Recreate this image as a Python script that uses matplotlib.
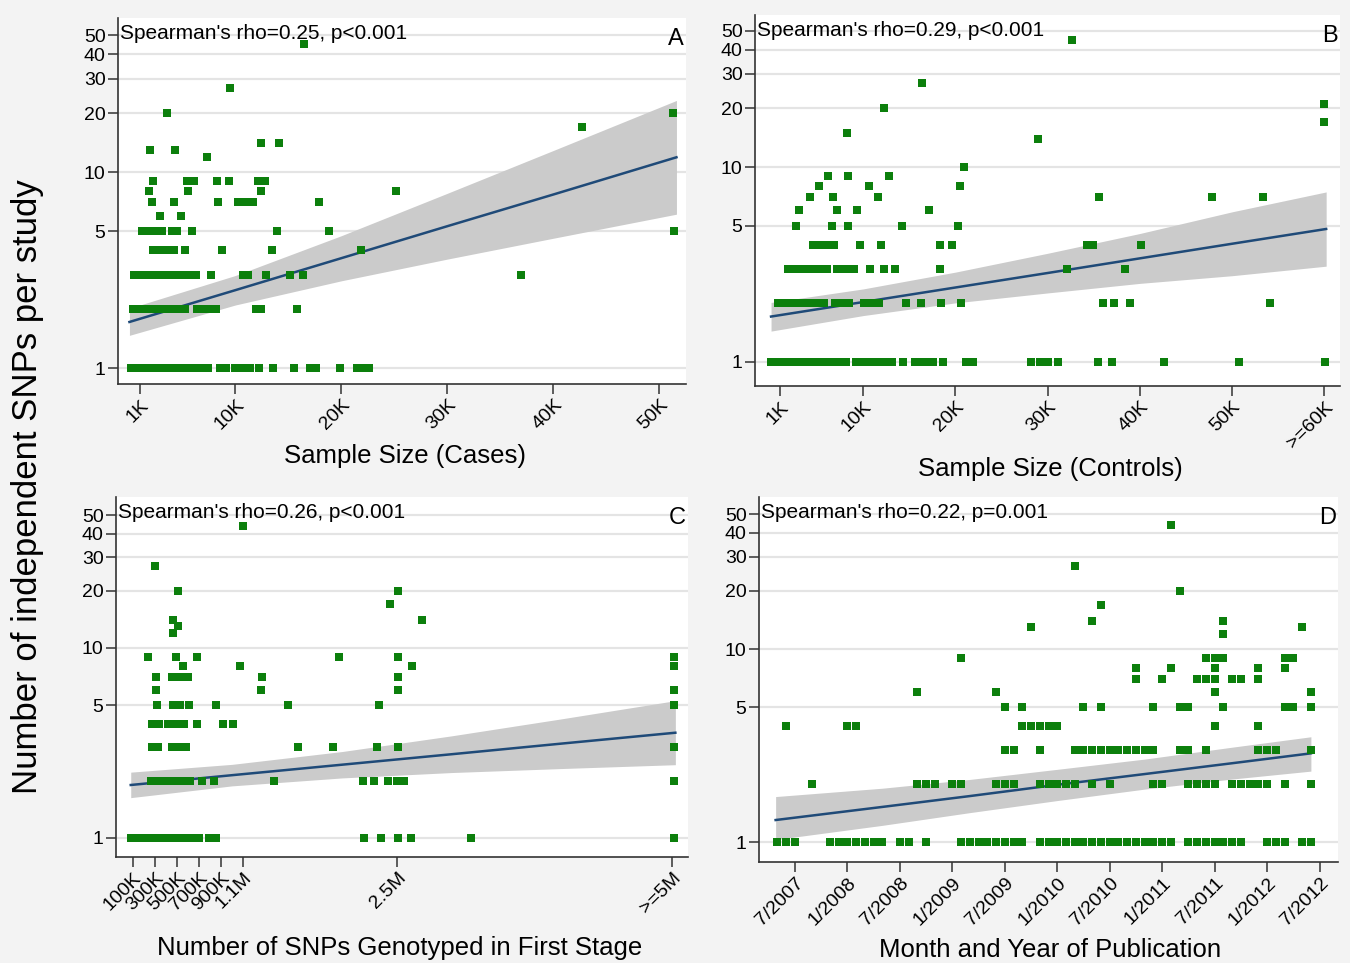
import matplotlib
matplotlib.use('Agg')
import matplotlib.pyplot as plt

# number of independent SNPs (y) -> sample size of cases, in thousands
cases_k = {
    1: [0.1, 0.3, 0.6, 0.9, 1.2, 1.5, 1.8, 2.0, 2.4, 2.7, 3.1, 3.5, 3.9, 4.3, 4.8, 5.2, 5.7, 6.2, 6.8, 7.4,
        8.5, 9.1, 10.0, 10.5, 11.0, 11.4, 12.2, 13.5, 15.5, 17.0, 17.6, 19.9, 21.5, 22.1, 22.6],
    2: [0.3, 0.7, 1.1, 1.5, 2.0, 2.4, 2.9, 3.4, 3.9, 4.4, 4.8, 5.2, 6.4, 7.0, 7.6, 8.2, 11.9, 12.4, 15.8],
    3: [0.4, 0.9, 1.2, 1.8, 2.3, 2.8, 3.3, 3.8, 4.5, 5.1, 5.9, 6.3, 7.7, 10.7, 11.2, 12.9, 15.1, 16.4, 36.9],
    4: [2.2, 2.7, 3.2, 3.7, 4.2, 5.2, 8.7, 13.4, 21.8],
    5: [1.2, 1.6, 2.0, 2.3, 3.1, 4.0, 4.5, 5.9, 13.9, 18.8, 51.4],
    6: [2.9, 4.9],
    7: [2.1, 4.2, 8.4, 10.2, 10.9, 11.7, 17.9],
    8: [1.8, 5.5, 12.4, 25.1],
    9: [2.2, 5.4, 6.1, 8.3, 9.4, 12.1, 12.8],
    12: [7.3],
    13: [1.9, 4.3],
    14: [12.4, 14.1],
    17: [42.7],
    20: [3.5, 51.3],
    27: [9.5],
    45: [16.5],
}

# sample size of controls, in thousands (60 = ">=60K")
controls_k = {
    1: [0.0, 0.3, 0.6, 0.9, 1.2, 1.6, 2.0, 2.4, 2.8, 3.2, 3.6, 4.0, 4.5, 5.0, 5.5, 6.0, 6.5, 7.0, 7.5, 8.1,
        9.2, 9.8, 10.4, 10.9, 11.7, 12.3, 13.1, 14.3, 15.6, 16.2, 16.9, 17.6, 18.6, 21.1, 21.9,
        28.2, 29.2, 30.0, 31.1, 35.5, 37.0, 42.6, 50.8, 60.1],
    2: [0.7, 1.2, 1.7, 2.2, 2.7, 3.2, 3.7, 4.2, 4.7, 5.2, 5.7, 6.9, 7.6, 8.5, 10.1, 10.8, 11.7, 14.6, 16.3,
        18.4, 20.6, 36.0, 37.2, 38.9, 54.1],
    3: [1.8, 2.5, 3.2, 3.9, 4.6, 5.2, 6.1, 7.1, 7.8, 8.5, 9.0, 10.7, 12.2, 13.4, 18.3, 32.1, 38.4],
    4: [4.6, 5.3, 6.0, 6.8, 9.7, 11.9, 18.3, 19.6, 34.3, 34.9, 40.1],
    5: [2.7, 6.6, 8.3, 14.2, 20.3],
    6: [3.0, 7.2, 9.3, 17.1],
    7: [4.2, 6.7, 11.6, 35.6, 47.8, 53.4],
    8: [5.2, 10.6, 20.5],
    9: [6.2, 8.3, 12.8],
    10: [20.9],
    14: [28.9],
    15: [8.2],
    17: [60.0],
    20: [12.2],
    21: [60.0],
    27: [16.4],
    45: [32.6],
}

# SNPs genotyped in first stage, in millions (5.02 = ">=5M")
genotyped_m = {
    1: [0.077, 0.132, 0.205, 0.25, 0.30, 0.35, 0.40, 0.45, 0.50, 0.55, 0.60, 0.65, 0.70, 0.786, 0.85,
        2.20, 2.35, 2.51, 2.63, 3.17, 5.02],
    2: [0.263, 0.32, 0.38, 0.44, 0.50, 0.56, 0.62, 0.73, 0.84, 1.38, 2.19, 2.29, 2.42, 2.50, 2.56, 5.02],
    3: [0.27, 0.33, 0.45, 0.51, 0.58, 1.60, 1.92, 2.32, 2.51, 5.02],
    4: [0.27, 0.34, 0.42, 0.49, 0.56, 0.68, 0.92, 1.01],
    5: [0.315, 0.46, 0.53, 0.61, 0.85, 1.51, 2.34, 5.02],
    6: [0.31, 1.26, 2.51, 5.02],
    7: [0.31, 0.45, 0.53, 0.60, 1.27, 2.51],
    8: [0.55, 1.07, 2.64, 5.02],
    9: [0.24, 0.49, 0.68, 1.97, 2.51, 5.02],
    12: [0.467],
    13: [0.512],
    14: [0.467, 2.73],
    17: [2.44],
    20: [0.512, 2.51],
    27: [0.30],
    44: [1.10],
}

# month of publication, counted in months after 7/2007
pub_month = {
    1: [-2, -1, 0, 4, 5, 6, 7, 8, 9, 10, 12, 13, 15, 19, 20, 21, 22, 23, 24, 25, 26,
        28, 29, 30, 31, 32, 33, 34, 35, 36, 37, 38, 39, 40, 41, 42, 43,
        45, 46, 47, 48, 49, 50, 51, 54, 55, 56, 58, 59],
    2: [2, 14, 15, 16, 18, 19, 23, 24, 25, 28, 29, 30, 31, 32, 34, 36, 41, 42, 45, 46, 47, 48,
        50, 51, 52, 53, 54, 56, 59],
    3: [24, 25, 28, 32, 33, 34, 35, 36, 37, 38, 39, 40, 41, 44, 45, 47, 53, 54, 55, 59],
    4: [-1, 6, 7, 26, 27, 28, 29, 30, 48, 53],
    5: [24, 26, 33, 35, 41, 44, 45, 49, 56, 57, 59],
    6: [14, 23, 48, 59],
    7: [39, 42, 46, 47, 48, 50, 51, 53],
    8: [39, 43, 48, 53, 56],
    9: [19, 47, 48, 49, 56, 57],
    12: [49],
    13: [27, 58],
    14: [34, 49],
    17: [35],
    20: [44],
    27: [32],
    44: [43],
}

# fitted line and 95% CI
fit_a_x = [0, 10, 20, 30, 40, 51.6]
fit_a_mid = [1.72, 2.50, 3.64, 5.30, 7.69, 11.9]
fit_a_lo = [1.47, 2.10, 2.79, 3.60, 4.60, 6.10]
fit_a_hi = [2.02, 2.97, 4.74, 7.80, 12.9, 23.2]

fit_b_x = [0, 10, 20, 30, 40, 50, 60.2]
fit_b_mid = [1.71, 2.03, 2.41, 2.86, 3.40, 4.04, 4.81]
fit_b_lo = [1.44, 1.73, 2.01, 2.26, 2.53, 2.77, 3.10]
fit_b_hi = [2.02, 2.37, 2.89, 3.61, 4.56, 5.89, 7.45]

fit_c_x = [0.079, 1, 2, 3, 4, 5.03]
fit_c_mid = [1.90, 2.14, 2.43, 2.76, 3.14, 3.58]
fit_c_lo = [1.63, 1.88, 2.07, 2.21, 2.32, 2.43]
fit_c_hi = [2.22, 2.44, 2.85, 3.45, 4.24, 5.28]

fit_d_x = [-2.2, 10, 20, 30, 40, 50, 59]
fit_d_mid = [1.30, 1.52, 1.73, 1.98, 2.25, 2.56, 2.88]
fit_d_lo = [1.03, 1.22, 1.42, 1.64, 1.88, 2.12, 2.33]
fit_d_hi = [1.72, 1.90, 2.11, 2.38, 2.69, 3.10, 3.51]

y_ticks = [1, 5, 10, 20, 30, 40, 50]

cases_ticks = [1, 10, 20, 30, 40, 50]
cases_labels = ['1K', '10K', '20K', '30K', '40K', '50K']
controls_ticks = [1, 10, 20, 30, 40, 50, 60]
controls_labels = ['1K', '10K', '20K', '30K', '40K', '50K', '>=60K']
genotyped_ticks = [0.1, 0.3, 0.5, 0.7, 0.9, 1.1, 2.5, 5.0]
genotyped_labels = ['100K', '300K', '500K', '700K', '900K', '1.1M', '2.5M', '>=5M']
month_ticks = [0, 6, 12, 18, 24, 30, 36, 42, 48, 54, 60]
month_labels = ['7/2007', '1/2008', '7/2008', '1/2009', '7/2009', '1/2010',
                '7/2010', '1/2011', '7/2011', '1/2012', '7/2012']

W, H = 1350, 963
GREEN = '#0c7f0c'
NAVY = '#1f4a78'
BAND = '#cbcbcb'


def add_panel(fig, box, rows, fit, xticks, xlabels, xlim, ylim, stat, letter):
    left, top, right, bottom = box
    ax = fig.add_axes([left / W, 1 - bottom / H, (right - left) / W, (bottom - top) / H])
    ax.set_facecolor('white')
    ax.set_yscale('log')

    fx, lo, mid, hi = fit
    ax.fill_between(fx, lo, hi, color=BAND, linewidth=0, zorder=2)
    ax.plot(fx, mid, color=NAVY, linewidth=1.8, zorder=3)

    for y, xs in rows.items():
        ax.scatter(xs, [y] * len(xs), marker='s', s=28, color=GREEN, linewidths=0, zorder=4)

    ax.set_xlim(*xlim)
    ax.set_ylim(*ylim)
    ax.set_yticks(y_ticks)
    ax.set_yticklabels([str(t) for t in y_ticks])
    ax.yaxis.set_minor_locator(matplotlib.ticker.NullLocator())
    ax.set_xticks(xticks)
    ax.set_xticklabels(xlabels, rotation=45, ha='right', va='top', rotation_mode='anchor')
    ax.tick_params(labelsize=14, length=7, width=1.1, color='#333333', pad=2)

    ax.grid(True, axis='y', color='#e4e4e4', linewidth=1.6, zorder=0)
    ax.set_axisbelow(True)
    for side in ('top', 'right'):
        ax.spines[side].set_visible(False)
    for side in ('left', 'bottom'):
        ax.spines[side].set_color('#333333')
        ax.spines[side].set_linewidth(1.2)

    ax.text(0.004, 0.983, stat, transform=ax.transAxes, ha='left', va='top', fontsize=15, zorder=5)
    ax.text(0.996, 0.972, letter, transform=ax.transAxes, ha='right', va='top', fontsize=17, zorder=5)
    return ax


def main():
    plt.rcParams['font.family'] = ['Liberation Sans', 'DejaVu Sans']
    fig = plt.figure(figsize=(13.5, 9.63), dpi=100, facecolor='#f3f3f3')

    add_panel(fig, (118, 18, 686, 384), cases_k,
              (fit_a_x, fit_a_lo, fit_a_mid, fit_a_hi),
              cases_ticks, cases_labels, (-1.08, 52.5), (0.83, 61.1),
              "Spearman's rho=0.25, p<0.001", 'A')
    add_panel(fig, (755, 15, 1340, 386), controls_k,
              (fit_b_x, fit_b_lo, fit_b_mid, fit_b_hi),
              controls_ticks, controls_labels, (-1.74, 61.7), (0.753, 60.2),
              "Spearman's rho=0.29, p<0.001", 'B')
    add_panel(fig, (116, 497, 688, 857), genotyped_m,
              (fit_c_x, fit_c_lo, fit_c_mid, fit_c_hi),
              genotyped_ticks, genotyped_labels, (-0.055, 5.145), (0.794, 62.3),
              "Spearman's rho=0.26, p<0.001", 'C')
    add_panel(fig, (759, 497, 1338, 862), pub_month,
              (fit_d_x, fit_d_lo, fit_d_mid, fit_d_hi),
              month_ticks, month_labels, (-4.1, 62.1), (0.788, 61.3),
              "Spearman's rho=0.22, p=0.001", 'D')

    fig.text(405 / W, 1 - 456 / H, 'Sample Size (Cases)', ha='center', va='center', fontsize=18.5)
    fig.text(1050 / W, 1 - 469 / H, 'Sample Size (Controls)', ha='center', va='center', fontsize=18.5)
    fig.text(400 / W, 1 - 948 / H, 'Number of SNPs Genotyped in First Stage',
             ha='center', va='center', fontsize=18.5)
    fig.text(1050 / W, 1 - 950 / H, 'Month and Year of Publication', ha='center', va='center', fontsize=18.5)
    fig.text(28 / W, 1 - 487 / H, 'Number of independent SNPs per study', rotation=90,
             ha='center', va='center', fontsize=25)

    fig.savefig('out.png', dpi=100, facecolor=fig.get_facecolor())


if __name__ == '__main__':
    main()
